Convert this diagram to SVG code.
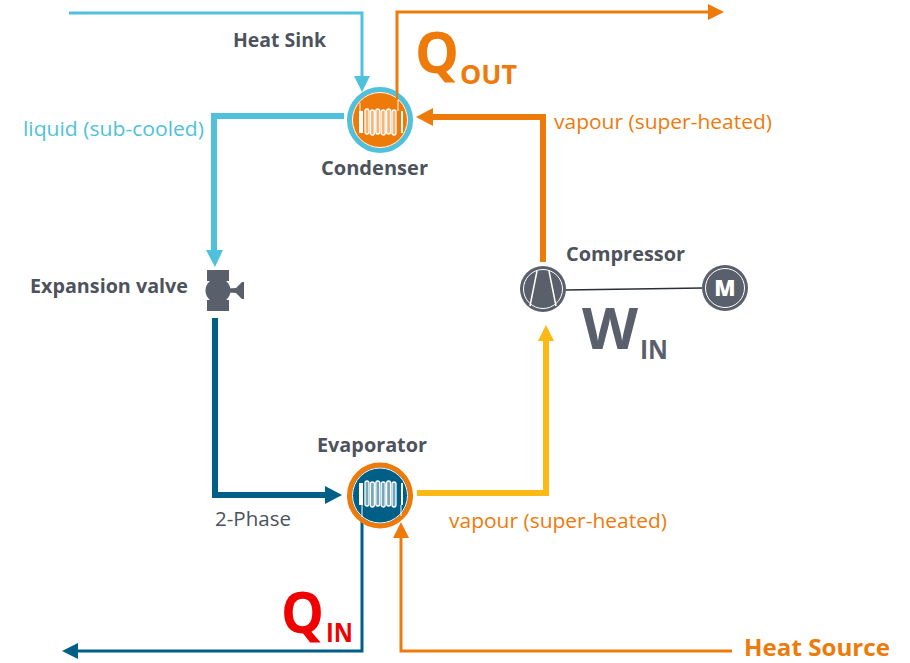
<svg xmlns="http://www.w3.org/2000/svg" width="910" height="663" viewBox="0 0 910 663">
<style>
text{font-family:"Open Sans","Liberation Sans",sans-serif}
.lb{font-weight:700;font-size:20px;fill:#4d535c}
.lr{font-size:20px}
.o{fill:#ee7a0a}.c{fill:#4fc1dc}.d{fill:#4d535c}
.ln{fill:none;stroke-linejoin:miter}
.pill{fill:#fff;fill-opacity:.45;stroke:#fff;stroke-width:1.300}
.gr{fill:#5a606b}
</style>
<defs>
<g id="coil">
<rect x="-22" y="-11" width="4" height="22" fill="#fff"/>
<rect x="20" y="-11" width="2" height="22" fill="#fff"/>
<rect class="pill" x="-16" y="-13" width="4" height="25" rx="2"/>
<rect class="pill" x="-10.600" y="-12" width="4" height="25" rx="2"/>
<rect class="pill" x="-5.200" y="-13" width="4" height="25" rx="2"/>
<rect class="pill" x="0.200" y="-12" width="4" height="25" rx="2"/>
<rect class="pill" x="5.600" y="-13" width="4" height="25" rx="2"/>
<rect class="pill" x="11" y="-12" width="4" height="25" rx="2"/>
</g>
</defs>
<g id="connectors">
<path class="ln" stroke="#4fc1dc" stroke-width="3" d="M69 13H362V78"/>
<path class="c" d="M354 76H370L362 92Z"/>
<path class="ln" stroke="#ee7a0a" stroke-width="3" d="M397 100V12H710"/>
<path class="o" d="M708 4L724 12L708 20Z"/>
<path class="ln" stroke="#4fc1dc" stroke-width="6" d="M344 116H214V252"/>
<path class="c" d="M206 250H223L215 267Z"/>
<path class="ln" stroke="#ee7a0a" stroke-width="6" d="M543 262V117H430"/>
<path class="o" d="M433 108V126L416 117Z"/>
<path class="ln" stroke="#005f86" stroke-width="6" d="M215 318V495H326"/>
<path fill="#005f86" d="M325 486L342 495L325 504Z"/>
<path class="ln" stroke="#fdb913" stroke-width="6" d="M417 493H546V340"/>
<path fill="#fdb913" d="M538 341L546 325L554 341Z"/>
<path class="ln" stroke="#005f86" stroke-width="3" d="M362 517V651H75"/>
<path fill="#005f86" d="M78 643V659L62 651Z"/>
<path class="ln" stroke="#ee7a0a" stroke-width="3" d="M732 651H401V535"/>
<path class="o" d="M393 538L401 522L409 538Z"/>
<path class="ln" stroke="#2a2e35" stroke-width="1.500" d="M565 290L703 288"/>
</g>
<g id="condenser">
<circle cx="380" cy="120" r="30.500" fill="#ee7a0a" stroke="#4fc1dc" stroke-width="5"/>
<circle cx="380" cy="120" r="27.500" fill="none" stroke="#fff" stroke-width="1"/>
<use href="#coil" x="381" y="122"/>
<path stroke="#fff" stroke-width="1" d="M360 111V103M398 111V100"/>
<path stroke="#ee7a0a" stroke-width="2" d="M397 86V100"/>
<text class="lb" x="321" y="175" textLength="107" lengthAdjust="spacingAndGlyphs">Condenser</text>
</g>
<g id="evaporator">
<circle cx="380" cy="495.500" r="30.500" fill="#005f86" stroke="#ee7a0a" stroke-width="5"/>
<circle cx="380" cy="495.500" r="27.500" fill="none" stroke="#fff" stroke-width="1"/>
<use href="#coil" x="381" y="494"/>
<path stroke="#fff" stroke-width="1" d="M362 505V517M401 505V516"/>
<text class="lb" x="317" y="452" textLength="110" lengthAdjust="spacingAndGlyphs">Evaporator</text>
</g>
<g id="expansion-valve">
<rect class="gr" x="207" y="270" width="22" height="11"/>
<rect class="gr" x="207" y="300" width="22" height="11"/>
<circle class="gr" cx="218" cy="290.500" r="12.500"/>
<path class="gr" d="M228 288.500L236 288L242 282H244V299H242L236 293L228 292.500Z"/>
<text class="lb" x="30" y="293" textLength="158" lengthAdjust="spacingAndGlyphs">Expansion valve</text>
</g>
<g id="compressor">
<circle class="gr" cx="543" cy="289" r="23"/>
<circle cx="543" cy="289" r="19.500" fill="none" stroke="#fff" stroke-width="1"/>
<path d="M537 271L530 306M549 271L556 306" stroke="#fff" stroke-width="1.500" fill="none"/>
<text class="lb" x="566" y="261" textLength="119" lengthAdjust="spacingAndGlyphs">Compressor</text>
</g>
<g id="motor">
<circle class="gr" cx="725" cy="288" r="23"/>
<circle cx="725" cy="288" r="19.500" fill="none" stroke="#fff" stroke-width="1"/>
<text x="725" y="296" text-anchor="middle" font-weight="800" font-size="22" fill="#fff">M</text>
</g>
<g id="labels">
<text class="lb" x="233" y="47" textLength="93" lengthAdjust="spacingAndGlyphs">Heat Sink</text>
<text class="lr c" x="23" y="136" textLength="181" lengthAdjust="spacingAndGlyphs">liquid (sub-cooled)</text>
<text class="lr o" x="554" y="129" textLength="218" lengthAdjust="spacingAndGlyphs">vapour (super-heated)</text>
<text class="lr o" x="449" y="528" textLength="218" lengthAdjust="spacingAndGlyphs">vapour (super-heated)</text>
<text class="lr" fill="#4d535c" x="215" y="526" textLength="76" lengthAdjust="spacingAndGlyphs">2-Phase</text>
<text x="744" y="656" font-weight="700" font-size="23" class="o" textLength="146" lengthAdjust="spacingAndGlyphs">Heat Source</text>
<text x="415" y="73" font-weight="700" font-size="58" class="o" textLength="44" lengthAdjust="spacingAndGlyphs">Q</text>
<text x="460" y="84" font-weight="700" font-size="27" class="o" textLength="57" lengthAdjust="spacingAndGlyphs">OUT</text>
<text x="281" y="633" font-weight="700" font-size="58" fill="#f00000" textLength="43" lengthAdjust="spacingAndGlyphs">Q</text>
<text x="326" y="642" font-weight="700" font-size="26" fill="#f00000" textLength="27" lengthAdjust="spacingAndGlyphs">IN</text>
<text x="582" y="349" font-weight="700" font-size="58" fill="#5a606b" textLength="56" lengthAdjust="spacingAndGlyphs">W</text>
<text x="640" y="359" font-weight="700" font-size="26" fill="#5a606b" textLength="28" lengthAdjust="spacingAndGlyphs">IN</text>
</g>
</svg>
